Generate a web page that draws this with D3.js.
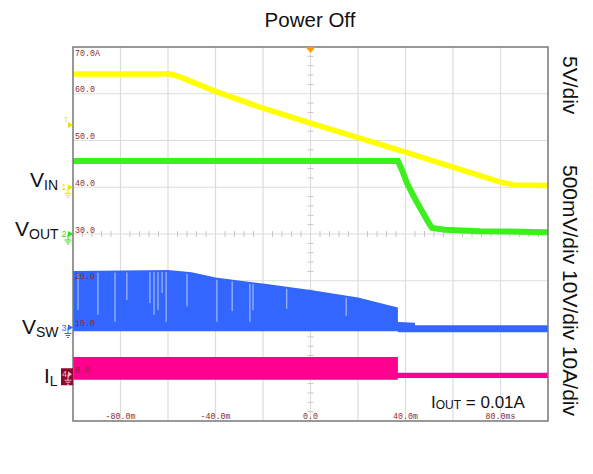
<!DOCTYPE html>
<html><head><meta charset="utf-8">
<script src="https://cdn.jsdelivr.net/npm/d3@7"></script>
<style>body{margin:0;background:#fff}svg{display:block}</style>
</head><body>
<svg id="c" width="593" height="474"></svg>
<script>
// ---- data (time in ms, values on the scope's graticule scale) ----
const xTickValues = [-80, -40, 0, 40, 80];
const xTickLabels = ["-80.0m", "-40.0m", "0.0", "40.0m", "80.0ms"];
const yTickValues = [70, 60, 50, 40, 30, 20, 10, 0];
const yTickLabels = ["70.0A", "60.0", "50.0", "40.0", "30.0", "20.0", "10.0", "0.0"];

const vinT = [-100, -59, -55, -40, -20, 0, 20, 40, 60, 80, 86, 100];
const vinV = [64.2, 64.2, 63.6, 60.5, 56.9, 53.7, 50.6, 47.5, 44.3, 41.1, 40.5, 40.4];

const voutT = [-100, 36.8, 38.5, 40.6, 42.7, 44.8, 47.4, 49.5, 51.2, 56.6, 71.4, 100];
const voutV = [45.6, 45.6, 43.7, 40.9, 38.8, 36.8, 34.5, 32.6, 31.3, 30.9, 30.6, 30.4];

const vswT    = [-100, -60, -50, -40, -20, 0, 20, 36.8, 36.8, 44, 44, 100];
const vswHigh = [22.1, 22.3, 21.8, 20.7, 19.4, 18.0, 16.4, 14.3, 11.2, 11.0, 10.5, 10.5];
const vswLow  = [9.2, 9.2, 9.2, 9.2, 9.2, 9.2, 9.2, 9.2, 9.0, 9.0, 9.0, 9.0];

// skipped-pulse streaks in the switch node trace
const gapT   = [-97.9, -89.5, -82.3, -77.3, -67.6, -65.9, -64.2, -62.5, -60.8, -52.0, -39.4, -33.0, -25.5, -24.2, -10.0, 15.0];
const gapLow = [13.7, 12.7, 11.2, 15.9, 15.2, 12.7, 13.7, 17.4, 11.2, 14.5, 11.2, 13.5, 11.2, 13.7, 14.0, 12.5];

const ilT    = [-100, 36.8, 36.8, 100];
const ilHigh = [3.7, 3.7, 0.3, 0.3];
const ilLow  = [-1.2, -1.2, -0.8, -0.8];

const channels = [
  {id: "1", level: 40, color: "#e6e600"},
  {id: "2", level: 30, color: "#33dd11"},
  {id: "3", level: 10, color: "#3366ff"},
];
const triggerLevel = 53.3;

// ---- layout ----
const svg = d3.select("#c");
const x = d3.scaleLinear().domain([-100, 100]).range([73, 548]);
const y = d3.scaleLinear().domain([-10, 70]).range([421, 47]);

const COL = {vin: "#ffff00", vout: "#3cf01e", vsw: "#3366ff", il: "#ff0090", grid: "#dcdcdc", lab: "#8b2c2c"};

// grid
const g = svg.append("g");
g.selectAll("line.vg").data(d3.range(-80, 81, 20)).join("line")
  .attr("x1", d => x(d)).attr("x2", d => x(d)).attr("y1", y(70)).attr("y2", y(-10))
  .attr("stroke", COL.grid).attr("stroke-width", 1.2);
g.selectAll("line.hg").data(d3.range(0, 61, 10)).join("line")
  .attr("y1", d => y(d)).attr("y2", d => y(d)).attr("x1", x(-100)).attr("x2", x(100))
  .attr("stroke", COL.grid).attr("stroke-width", 1.2);
// minor ticks on centre lines
g.selectAll("line.mx").data(d3.range(-96, 100, 4).filter(d => d % 20 !== 0)).join("line")
  .attr("x1", d => x(d)).attr("x2", d => x(d)).attr("y1", y(30) - 3).attr("y2", y(30) + 3)
  .attr("stroke", "#c8c8c8").attr("stroke-width", 1);
g.selectAll("line.my").data(d3.range(-8, 70, 2).filter(d => d % 10 !== 0)).join("line")
  .attr("y1", d => y(d)).attr("y2", d => y(d)).attr("x1", x(0) - 3).attr("x2", x(0) + 3)
  .attr("stroke", "#c8c8c8").attr("stroke-width", 1);

// traces
const line = (T, V) => d3.line().x((d, i) => x(T[i])).y((d, i) => y(V[i]))(T);
const area = (T, H, L) => d3.area().x((d, i) => x(T[i])).y0((d, i) => y(L[i])).y1((d, i) => y(H[i]))(T);

svg.append("path").attr("d", area(ilT, ilHigh, ilLow)).attr("fill", COL.il);
svg.append("path").attr("d", area(vswT, vswHigh, vswLow)).attr("fill", COL.vsw);
const envelope = d3.scaleLinear().domain(vswT.slice(0, 8)).range(vswHigh.slice(0, 8));
svg.selectAll("line.gap").data(gapT).join("line")
  .attr("x1", d => x(d)).attr("x2", d => x(d))
  .attr("y1", d => y(envelope(d)) + 2)
  .attr("y2", (d, i) => y(gapLow[i]))
  .attr("stroke", "#b9cbf8").attr("stroke-width", 1);
svg.append("path").attr("d", line(vinT, vinV)).attr("fill", "none").attr("stroke", COL.vin).attr("stroke-width", 5.5);
svg.append("path").attr("d", line(voutT, voutV)).attr("fill", "none").attr("stroke", COL.vout).attr("stroke-width", 6);

// border
svg.append("rect").attr("x", x(-100)).attr("y", y(70)).attr("width", x(100) - x(-100)).attr("height", y(-10) - y(70))
  .attr("fill", "none").attr("stroke", "#777").attr("stroke-width", 1.5);

// tick labels
const mono = "'Liberation Mono','DejaVu Sans Mono',monospace";
svg.selectAll("text.yl").data(yTickValues).join("text")
  .attr("x", 75).attr("y", (d, i) => i === 0 ? y(d) + 9 : y(d) - 1.5)
  .attr("font-family", mono).attr("font-size", 8.3).attr("fill", COL.lab)
  .text((d, i) => yTickLabels[i]);
svg.selectAll("text.xl").data(xTickValues).join("text")
  .attr("x", d => x(d)).attr("y", 418.5).attr("text-anchor", "middle")
  .attr("font-family", mono).attr("font-size", 8.3).attr("fill", COL.lab)
  .text((d, i) => xTickLabels[i]);

// trigger position marker (top) and trigger level marker (left)
svg.append("path").attr("d", `M${x(0) - 5},${y(70)} L${x(0) + 5},${y(70)} L${x(0)},${y(70) + 6} Z`).attr("fill", "#ff9900");
svg.append("text").attr("x", 66).attr("y", y(triggerLevel) - 3).attr("text-anchor", "middle")
  .attr("font-family", mono).attr("font-size", 8).attr("fill", "#e6e600").text("T");
svg.append("path").attr("d", `M68,${y(triggerLevel) - 3} L73,${y(triggerLevel)} L68,${y(triggerLevel) + 3} Z`).attr("fill", "#e6e600");

// channel markers
function ground(sel, cx, cy, col) {
  sel.append("path").attr("d",
    `M${cx},${cy} V${cy + 6} M${cx - 3.5},${cy + 6} H${cx + 3.5} M${cx - 2.3},${cy + 8} H${cx + 2.3} M${cx - 1},${cy + 10} H${cx + 1}`)
    .attr("stroke", col).attr("stroke-width", 1).attr("fill", "none");
}
channels.forEach(c => {
  const cy = y(c.level);
  svg.append("text").attr("x", 64).attr("y", cy + 3).attr("text-anchor", "middle")
    .attr("font-family", "'Liberation Sans',Arial,sans-serif").attr("font-size", 9).attr("fill", c.color).text(c.id);
  svg.append("path").attr("d", `M68,${cy - 3} L73,${cy} L68,${cy + 3} Z`).attr("fill", c.color);
  ground(svg, 68, cy, c.color);
});
{
  const cy = y(0);
  svg.append("rect").attr("x", 61).attr("y", cy - 6).attr("width", 12).attr("height", 17).attr("fill", "#8a0a2c");
  svg.append("text").attr("x", 64.5).attr("y", cy + 3).attr("text-anchor", "middle")
    .attr("font-family", "'Liberation Sans',Arial,sans-serif").attr("font-size", 9).attr("fill", "#f3b0c8").text("4");
  svg.append("path").attr("d", `M68,${cy - 3} L72,${cy} L68,${cy + 3} Z`).attr("fill", "#f3b0c8");
  ground(svg, 68, cy, "#f3b0c8");
}

// texts
const sans = "'Liberation Sans',Arial,sans-serif";
svg.append("text").attr("x", 310).attr("y", 27).attr("text-anchor", "middle")
  .attr("font-family", sans).attr("font-size", 20.5).attr("fill", "#111").text("Power Off");

function sigLabel(xx, yy, main, sub, fs, sfs) {
  const t = svg.append("text").attr("x", xx).attr("y", yy).attr("font-family", sans).attr("font-size", fs).attr("fill", "#111");
  t.append("tspan").text(main);
  t.append("tspan").attr("font-size", sfs).attr("dy", 3).text(sub);
  return t;
}
sigLabel(30, 187, "V", "IN", 21, 14);
sigLabel(15, 236, "V", "OUT", 21, 14);
sigLabel(22, 334, "V", "SW", 21, 14);
sigLabel(44, 383, "I", "L", 21, 14);

const io = svg.append("text").attr("x", 431).attr("y", 408).attr("font-family", sans).attr("font-size", 17).attr("fill", "#111");
io.append("tspan").text("I");
io.append("tspan").attr("font-size", 12).attr("dy", 1).text("OUT");
io.append("tspan").attr("dy", -1).text(" = 0.01A");

svg.append("text").attr("transform", "translate(563,56) rotate(90)")
  .attr("font-family", sans).attr("font-size", 21).attr("fill", "#111").text("5V/div");
svg.append("text").attr("transform", "translate(563,165) rotate(90)")
  .attr("font-family", sans).attr("font-size", 21).attr("fill", "#111").text("500mV/div 10V/div 10A/div");
</script>
</body></html>
